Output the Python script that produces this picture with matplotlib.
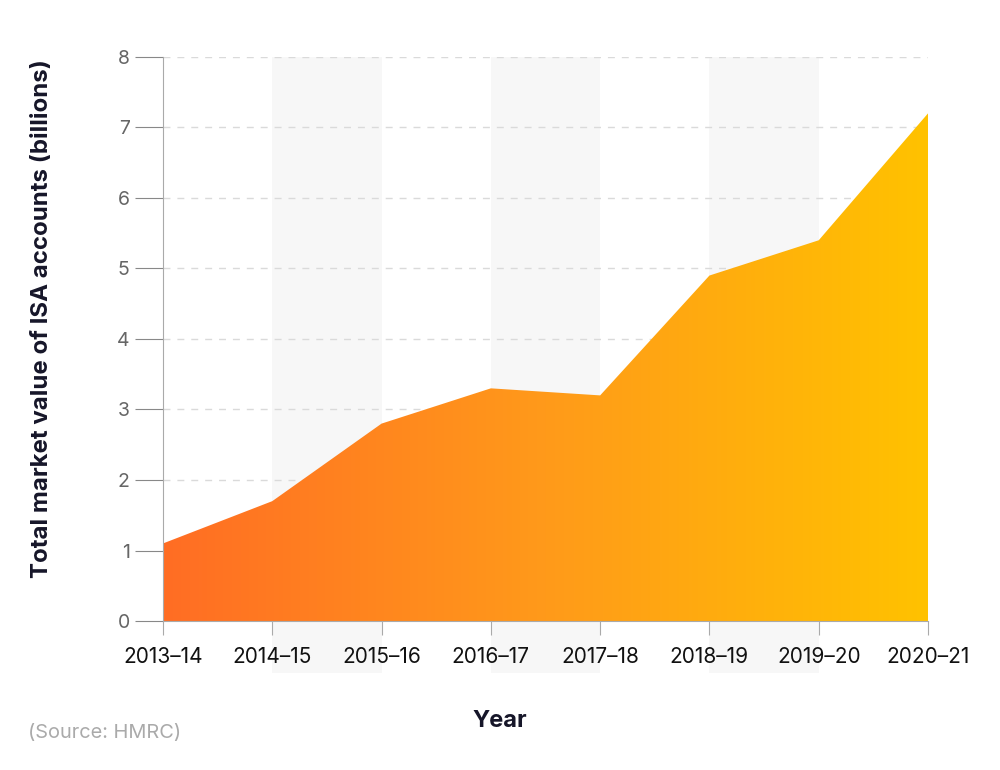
import numpy as np
import matplotlib.pyplot as plt
from matplotlib.colors import LinearSegmentedColormap

plt.rcParams['font.family'] = ['Inter', 'DejaVu Sans']

# Data
years = ['2013–14', '2014–15', '2015–16', '2016–17', '2017–18', '2018–19', '2019–20', '2020–21']
values = [1.1, 1.7, 2.8, 3.3, 3.2, 4.9, 5.4, 7.2]

x = np.arange(len(years))

fig = plt.figure(figsize=(10, 7.7), dpi=100)
ax = fig.add_axes([0.163, 0.1935, 0.765, 0.7325])

ax.set_xlim(0, len(years) - 1)
ax.set_ylim(0, 8)

# bandas cinzentas alternadas
for i in range(1, len(years) - 1, 2):
    ax.axvspan(x[i], x[i + 1], ymin=-0.092, ymax=1, color='#f7f7f7', zorder=0,
               clip_on=False, lw=0)

# grelha
ax.yaxis.grid(True, linestyle=(0, (5, 5)), color='#dadada', lw=1)
ax.set_axisbelow(True)

# area com gradiente
poly = ax.fill_between(x, values, 0, color='none', lw=0, zorder=2)
cmap = LinearSegmentedColormap.from_list('grad', ['#ff6d24', '#ff9a1a', '#ffc200'])
grad = np.linspace(0, 1, 256).reshape(1, -1)
img = ax.imshow(grad, extent=[0, len(years) - 1, 0, 8], aspect='auto', cmap=cmap,
                origin='lower', zorder=2)
path = poly.get_paths()[0]
img.set_clip_path(path, transform=ax.transData)

# eixos
for s in ['top', 'right']:
    ax.spines[s].set_visible(False)
ax.spines['left'].set_color('#aaaaaa')
ax.spines['bottom'].set_color('#aaaaaa')
ax.spines['left'].set_zorder(3)

ax.set_xticks(x)
ax.set_xticklabels(years, fontsize=15, color='#111111')
ax.set_yticks(range(0, 9))
ax.tick_params(axis='y', length=20, color='#888888', labelsize=14, labelcolor='#666666', pad=4)
ax.tick_params(axis='x', length=10, color='#aaaaaa', pad=9)

fig.text(0.042, 0.586, 'Total market value of ISA accounts (billions)', rotation=90,
         fontsize=17.3, fontweight='bold', color='#161629', ha='center', va='center')
fig.text(0.5, 0.064, 'Year', fontsize=17, fontweight='bold', color='#161629',
         ha='center', va='center')
fig.text(0.028, 0.048, '(Source: HMRC)', fontsize=14.4, color='#aaaaaa', ha='left', va='center')

fig.savefig('out.png', dpi=100)
